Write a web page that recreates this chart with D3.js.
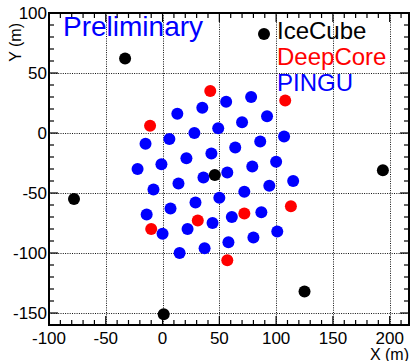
<!DOCTYPE html>
<html>
<head>
<meta charset="utf-8">
<script src="https://cdn.jsdelivr.net/npm/d3@7"></script>
<style>
  body { margin: 0; background: #fff; }
  svg { display: block; font-family: "Liberation Sans", Arial, sans-serif; }
</style>
</head>
<body>
<div id="chart"></div>
<script>
// string positions (m)
const iceCube = [[-33, 62], [-78, -55], [194, -31], [46, -35], [125, -132], [1, -151]];
const deepCore = [[42, 35], [108, 27], [-11, 6], [113, -61], [72, -67], [31, -73], [-10, -80], [57, -106]];
const pingu = [
  [56, 26], [78, 30], [35, 21], [13, 16], [92, 14], [70, 9], [49, 4], [28, 0], [6, -5], [-15, -9],
  [107, -3], [86, -7], [64, -12], [43, -17], [21, -21], [-1, -26], [-22, -30], [100, -24], [79, -28], [57, -33],
  [36, -37], [14, -42], [-8, -47], [115, -40], [94, -44], [72, -49], [50, -54], [29, -58], [7, -63], [-14, -68],
  [87, -66], [61, -70], [44, -75], [22, -80], [0, -84], [101, -82], [80, -87], [58, -91], [37, -96], [15, -100]
];
const xTicks = [-100, -50, 0, 50, 100, 150, 200];
const yTicks = [-150, -100, -50, 0, 50, 100];
const legendLabels = ['IceCube', 'DeepCore', 'PINGU'];
const legendColors = ['#000', '#ff0000', '#0000ff'];

const W = 414, H = 361;
const frame = { left: 49, right: 409, top: 13, bottom: 325 };

const svg = d3.select('#chart').append('svg')
  .attr('width', W).attr('height', H);

svg.append('rect').attr('width', W).attr('height', H).attr('fill', '#fff');

const x = d3.scaleLinear().domain([-100, 217]).range([frame.left, frame.right]);
const y = d3.scaleLinear().domain([-160, 100]).range([frame.bottom, frame.top]);

// dotted grid at major ticks
const grid = svg.append('g')
  .attr('stroke', '#111').attr('stroke-width', 1).attr('stroke-dasharray', '1,1.3');
grid.selectAll('.gx').data(xTicks).enter().append('line')
  .attr('x1', d => Math.round(x(d)) + 0.5).attr('x2', d => Math.round(x(d)) + 0.5)
  .attr('y1', frame.top).attr('y2', frame.bottom);
grid.selectAll('.gy').data(yTicks).enter().append('line')
  .attr('y1', d => Math.round(y(d)) + 0.5).attr('y2', d => Math.round(y(d)) + 0.5)
  .attr('x1', frame.left).attr('x2', frame.right);

// inward ticks on all four sides
const ticks = svg.append('g').attr('stroke', '#000').attr('stroke-width', 1.2);
const xMinor = d3.range(-100, 218, 10);
const yMinor = d3.range(-160, 101, 10);
xMinor.forEach(v => {
  const len = v % 50 === 0 ? 9 : 5;
  const px = x(v);
  ticks.append('line').attr('x1', px).attr('x2', px).attr('y1', frame.bottom).attr('y2', frame.bottom - len);
  ticks.append('line').attr('x1', px).attr('x2', px).attr('y1', frame.top).attr('y2', frame.top + len);
});
yMinor.forEach(v => {
  const len = v % 50 === 0 ? 9 : 5;
  const py = y(v);
  ticks.append('line').attr('y1', py).attr('y2', py).attr('x1', frame.left).attr('x2', frame.left + len);
  ticks.append('line').attr('y1', py).attr('y2', py).attr('x1', frame.right).attr('x2', frame.right - len);
});

// frame
svg.append('rect')
  .attr('x', frame.left).attr('y', frame.top)
  .attr('width', frame.right - frame.left).attr('height', frame.bottom - frame.top)
  .attr('fill', 'none').attr('stroke', '#000').attr('stroke-width', 2);

// tick labels
svg.append('g').selectAll('text').data(xTicks).enter().append('text')
  .attr('x', d => x(d)).attr('y', 344)
  .attr('text-anchor', 'middle').attr('font-size', 17).attr('fill', '#000')
  .text(d => String(d));
svg.append('g').selectAll('text').data(yTicks).enter().append('text')
  .attr('x', 47).attr('y', d => y(d) + 6)
  .attr('text-anchor', 'end').attr('font-size', 17).attr('fill', '#000')
  .text(d => String(d));

// axis titles
svg.append('text')
  .attr('x', 409).attr('y', 360)
  .attr('text-anchor', 'end').attr('font-size', 16)
  .text('X (m)');
svg.append('text')
  .attr('transform', 'translate(21,23) rotate(-90)')
  .attr('text-anchor', 'end').attr('font-size', 16)
  .text('Y (m)');

// strings
const dots = svg.append('g');
function drawSeries(data, color) {
  dots.append('g').selectAll('circle').data(data).enter().append('circle')
    .attr('cx', d => x(d[0])).attr('cy', d => y(d[1]))
    .attr('r', 6).attr('fill', color);
}
drawSeries(pingu, '#0000ff');
drawSeries(deepCore, '#ff0000');
drawSeries(iceCube, '#000');

// labels
svg.append('text')
  .attr('x', 63).attr('y', 36)
  .attr('font-size', 28).attr('fill', '#0000ff')
  .text('Preliminary');

const legend = svg.append('g');
legend.append('circle').attr('cx', 264).attr('cy', 34).attr('r', 6).attr('fill', '#000');
legend.selectAll('text').data(legendLabels).enter().append('text')
  .attr('x', 277).attr('y', (d, i) => 39 + i * 26)
  .attr('font-size', 24).attr('fill', (d, i) => legendColors[i])
  .text(d => d);
</script>
</body>
</html>
